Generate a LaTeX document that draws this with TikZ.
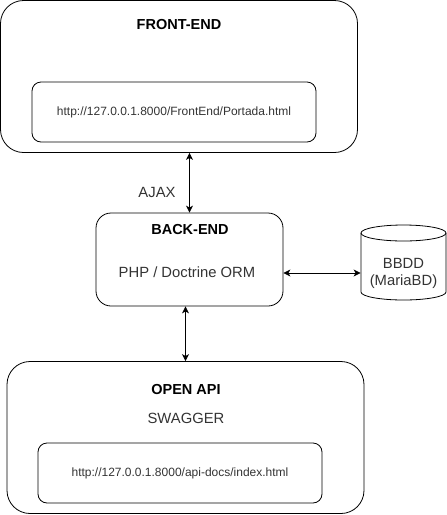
\documentclass[tikz,border=0pt]{standalone}
\usepackage{fontspec}
\setmainfont{Liberation Sans}
\usetikzlibrary{arrows.meta}
\definecolor{textgray}{HTML}{333333}
\begin{document}
\begin{tikzpicture}[x=1pt,y=1pt,line width=0.8pt,
    box/.style={draw,rounded corners=23pt,minimum width=357pt,minimum height=152pt},
    urlbox/.style={draw,rounded corners=9pt,minimum width=284pt,minimum height=60pt,
      text=textgray,font=\fontsize{12}{14}\selectfont},
    title/.style={font=\fontsize{14.5}{16}\selectfont\bfseries},
    plain/.style={text=textgray,font=\fontsize{14.8}{17}\selectfont,align=center}]
  \useasboundingbox (0,0) rectangle (447,-515);
  \draw
    (179,-76.5) node[box] (front){}
    (179,-25) node[title] (fronttitle){FRONT-END}
    (174,-112) node[urlbox] (fronturl){http://127.0.0.1.8000/FrontEnd/Portada.html}
    (189.5,-259.5) node[box,rounded corners=15pt,minimum width=187pt,minimum height=93pt] (back){}
    (190,-230) node[title] (backtitle){BACK-END}
    (187,-272) node[plain] (backtext){PHP / Doctrine ORM}
    (403.5,-273) node[plain,minimum width=85pt,inner xsep=0pt] (db){BBDD\\(MariaBD)}
    (185.5,-437.5) node[box] (openapi){}
    (186,-390) node[title] (apititle){OPEN API}
    (186,-418) node[plain] (swagger){SWAGGER}
    (180,-473) node[urlbox] (apiurl){http://127.0.0.1.8000/api-docs/index.html}
    (157,-192) node[plain] (ajax){AJAX};
  % cylinder round the database text
  \draw (361,-233) -- (361,-292) arc (180:360:42.5 and 8) -- (446,-233);
  \draw (403.5,-233) ellipse (42.5 and 8);
  \begin{scope}[{Stealth[length=7pt,width=7pt,inset=2pt]}-{Stealth[length=7pt,width=7pt,inset=2pt]}]
    \draw (back.north) to (back.north |- front.south);
    \draw (back.east |- db.west) to (db.west);
    \draw (back.south -| openapi.north) to (openapi.north);
  \end{scope}
\end{tikzpicture}
\end{document}
